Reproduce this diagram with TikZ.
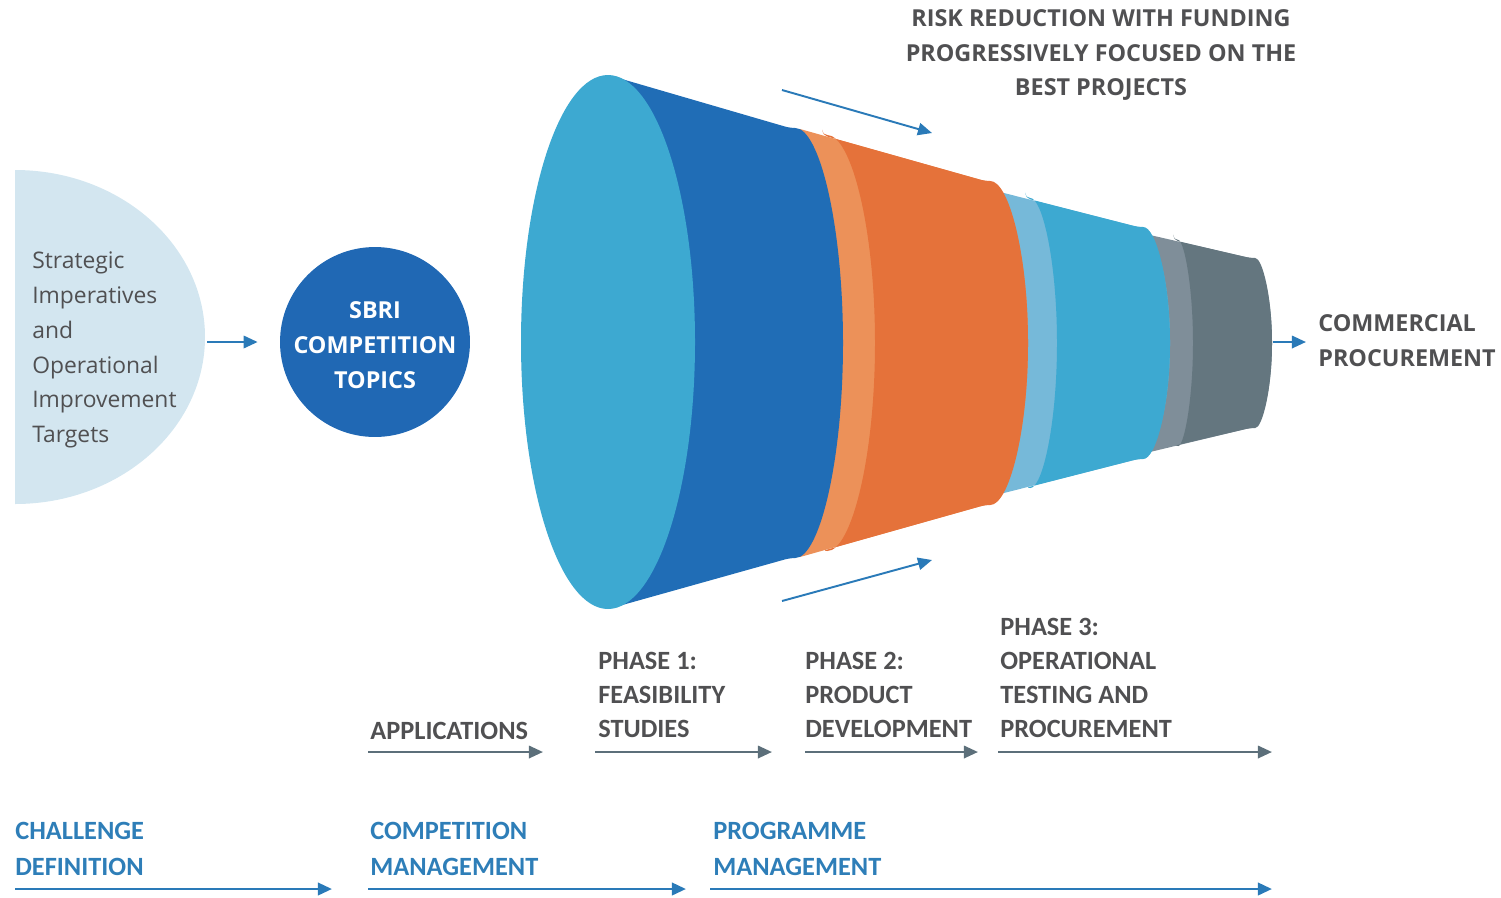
\documentclass[tikz,border=0pt]{standalone}
\usepackage{fontspec}
\setmainfont{Carlito}
\newfontfamily\opensans{Open Sans}
\usetikzlibrary{arrows.meta,positioning}
\definecolor{diskblue}{HTML}{D3E6F0}
\definecolor{sbriblue}{HTML}{2068B4}
\definecolor{faceblue}{HTML}{3DA9D1}
\definecolor{deepblue}{HTML}{206DB6}
\definecolor{rimorange}{HTML}{EC9159}
\definecolor{bodyorange}{HTML}{E5723A}
\definecolor{rimblue}{HTML}{76B9D9}
\definecolor{rimgrey}{HTML}{7F8E99}
\definecolor{bodygrey}{HTML}{64767F}
\definecolor{arrowblue}{HTML}{2A7AB8}
\definecolor{arrowgrey}{HTML}{5C6F7A}
\definecolor{textgrey}{HTML}{505052}
\definecolor{stageblue}{HTML}{2E7EB8}
\tikzset{flow arrow/.style={line width=1.4pt,-{Triangle[length=8pt,width=7pt]}},
	blue arrow/.style={flow arrow,draw=arrowblue},
	grey arrow/.style={flow arrow,draw=arrowgrey},
	phase label/.style={anchor=north west,inner sep=0pt,align=left,text=textgrey,
		font=\bfseries\fontsize{15}{19.4}\selectfont},
	stage label/.style={phase label,text=stageblue,font=\bfseries\fontsize{15}{20.5}\selectfont},
	side label/.style={inner sep=0pt,text=textgrey,font=\opensans\bfseries\fontsize{13.3}{19.8}\selectfont},
}

\begin{document}
\begin{tikzpicture}[x=0.02cm,y=0.02cm]
	\useasboundingbox (0,0) rectangle (1501,-897);
	
	% half disk and topics circle
	\fill[diskblue] (15,-170) arc[start angle=90,end angle=-90,x radius=190,y radius=167] -- cycle;
	\node[anchor=north west,inner sep=0pt,align=left,text=textgrey,
		font=\opensans\fontsize{13}{19.9}\selectfont] (strategic) at (32,-251)
		{Strategic\\Imperatives\\and\\Operational\\Improvement\\Targets};
	\node[circle,fill=sbriblue,minimum size=3.8cm,inner sep=0pt] (sbri) at (375,-342) {};
	\node[align=center,text=white,inner sep=0pt,
		font=\opensans\bfseries\fontsize{13.3}{19.9}\selectfont] (topics) at (375,-345)
		{SBRI\\COMPETITION\\TOPICS};
	\coordinate (disk-e) at (207,-342);
	\draw[blue arrow] (disk-e) -- (sbri.west) [shorten >=0.44cm];
	
	% funnel, back to front
	\fill[rimgrey] (1150,-235) -- (1250,-258) arc[start angle=90,end angle=-90,x radius=22,y radius=85]
		-- (1150,-452) arc[start angle=-90,end angle=-270,x radius=20,y radius=109] -- cycle;
	\fill[bodygrey,rounded corners=3pt] (1173,-240) -- (1250,-258) arc[start angle=90,end angle=-90,x radius=22,y radius=85]
		-- (1173,-446) arc[start angle=-90,end angle=90,x radius=20,y radius=103] -- cycle;
	\fill[rimblue] (1000,-192) -- (1138,-227) arc[start angle=90,end angle=-90,x radius=32,y radius=116]
		-- (1000,-494) arc[start angle=-90,end angle=-270,x radius=30,y radius=151] -- cycle;
	\fill[faceblue,rounded corners=3pt] (1025,-198) -- (1138,-227) arc[start angle=90,end angle=-90,x radius=32,y radius=116]
		-- (1025,-488) arc[start angle=-90,end angle=90,x radius=32,y radius=145] -- cycle;
	\fill[rimorange] (800,-129) -- (985,-181) arc[start angle=90,end angle=-90,x radius=43,y radius=162]
		-- (800,-557) arc[start angle=-90,end angle=-270,x radius=50,y radius=214] -- cycle;
	\fill[bodyorange,rounded corners=3pt] (822,-135) -- (985,-181) arc[start angle=90,end angle=-90,x radius=43,y radius=162]
		-- (822,-551) arc[start angle=-90,end angle=90,x radius=53,y radius=208] -- cycle;
	\fill[deepblue,rounded corners=3pt] (608,-75) -- (790,-128) arc[start angle=90,end angle=-90,x radius=53,y radius=215]
		-- (608,-609) -- cycle;
	\fill[faceblue] (608,-342) ellipse[x radius=87,y radius=267];
	
	% risk arrows and top text
	\coordinate (risk-a) at (782,-90);
	\coordinate (risk-b) at (932,-133);
	\coordinate (risk-c) at (782,-601);
	\coordinate (risk-d) at (932,-560);
	\draw[blue arrow,line width=1.1pt] (risk-a) -- (risk-b);
	\draw[blue arrow,line width=1.1pt] (risk-c) -- (risk-d);
	\node[side label,align=center,anchor=north] (risk) at (1101,-9)
		{RISK REDUCTION WITH FUNDING\\PROGRESSIVELY FOCUSED ON THE\\BEST PROJECTS};
	
	% way out
	\coordinate (funnel-e) at (1273,-342);
	\coordinate (market) at (1306,-342);
	\draw[blue arrow] (funnel-e) -- (market);
	\node[side label,align=left,anchor=north west] (commercial) at (1318,-314)
		{COMMERCIAL\\PROCUREMENT};
	
	% phases
	\node[phase label] (applications) at (370,-722) {APPLICATIONS};
	\node[phase label] (phase1) at (598,-652) {PHASE 1:\\FEASIBILITY\\STUDIES};
	\node[phase label] (phase2) at (805,-652) {PHASE 2:\\PRODUCT\\DEVELOPMENT};
	\node[phase label] (phase3) at (1000,-618) {PHASE 3:\\OPERATIONAL\\TESTING AND\\PROCUREMENT};
	\foreach \s/\e/\n in {368/543/applications,595/772/phase1,805/978/phase2,998/1272/phase3}{
		\coordinate (\n-s) at (\s,-752);
		\coordinate (\n-e) at (\e,-752);
		\draw[grey arrow] (\n-s) -- (\n-e);
	}
	
	% stages
	\node[stage label] (challenge) at (15,-822) {CHALLENGE\\DEFINITION};
	\node[stage label] (competition) at (370,-822) {COMPETITION\\MANAGEMENT};
	\node[stage label] (programme) at (713,-822) {PROGRAMME\\MANAGEMENT};
	\foreach \s/\e/\n in {15/332/challenge,368/686/competition,710/1272/programme}{
		\coordinate (\n-s) at (\s,-889);
		\coordinate (\n-e) at (\e,-889);
		\draw[blue arrow,line width=1.6pt] (\n-s) -- (\n-e);
	}
\end{tikzpicture}
\end{document}
